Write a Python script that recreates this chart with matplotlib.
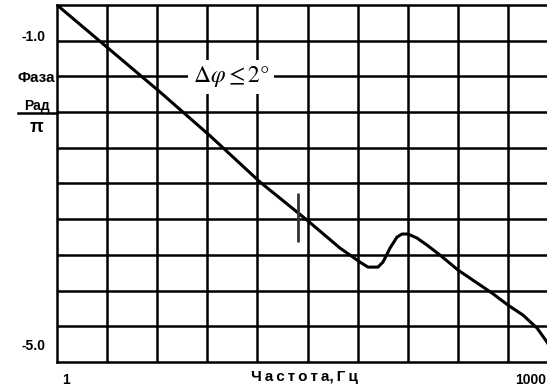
import numpy as np
import matplotlib.pyplot as plt
from matplotlib.lines import Line2D
from matplotlib.transforms import ScaledTranslation

plt.rcParams['mathtext.fontset'] = 'stix'

# phase response (frequency in Hz, phase in rad/pi)
freq = [1.0, 2.15, 4.70, 10.0, 21.1, 42.7, 70.2, 81.5, 94.7, 106.8, 124.1,
        133.8, 148.7, 165.2, 178.1, 194.8, 223.0, 259.2, 315.1, 412.9, 688.0,
        875.0, 1096.0, 1353.0, 1572.0, 1799.0]
phase = [-0.600, -1.157, -1.726, -2.296, -2.891, -3.383, -3.746, -3.836,
         -3.927, -3.992, -3.992, -3.927, -3.746, -3.603, -3.564, -3.564,
         -3.616, -3.707, -3.836, -4.030, -4.328, -4.484, -4.613, -4.781,
         -4.962, -5.170]

ytick_vals = [-1.0, -5.0]
ytick_labels = ['-1.0', '-5.0']
xtick_vals = [1, 1000]
xtick_labels = ['1', '1000']

marker_f = 37.3
marker_lo, marker_hi = -3.67, -3.03
note_f, note_y = 13.65, -1.53

x_min, x_max = 1.0, 1854.0
y_min, y_max = -5.22, -0.60

fig = plt.figure(figsize=(5.47, 3.87), dpi=100)
ax = fig.add_axes([57 / 547, 1 - 362 / 387, 501 / 547, 357 / 387])

ax.set_xscale('log')
ax.set_xlim(x_min, x_max)
ax.set_ylim(y_min, y_max)

# 10 x 10 grid of equal cells
ax.set_xticks(np.logspace(0, np.log10(x_max), 11)[1:-1], minor=True)
ax.set_yticks(np.linspace(y_min, y_max, 11)[1:-1], minor=True)
ax.grid(which='minor', color='black', lw=1.8)
ax.tick_params(which='both', length=0)
for s in ax.spines.values():
    s.set_linewidth(1.8)

ax.plot(freq, phase, color='black', lw=2.2, zorder=3)
ax.vlines(marker_f, marker_lo, marker_hi, color='#333333', lw=2.0, zorder=3)

ax.text(note_f, note_y, r'$\Delta\varphi \leq 2°$', fontsize=17,
        ha='center', va='center', zorder=5,
        bbox=dict(fc='white', ec='none', boxstyle='square,pad=0.2'))

ax.set_yticks(ytick_vals)
ax.set_yticklabels(ytick_labels, fontsize=10, fontweight='bold',
                   family='Liberation Sans')
ax.tick_params(axis='y', pad=8)

ax.set_xticks(xtick_vals)
ax.set_xticklabels(xtick_labels, fontsize=10, fontweight='bold',
                   family='Liberation Sans')
ax.tick_params(axis='x', pad=8)
shifts = [5, -2]
for lab, dx in zip(ax.get_xticklabels(), shifts):
    lab.set_ha('left')
    lab.set_transform(lab.get_transform()
                      + ScaledTranslation(dx / 100, 0, fig.dpi_scale_trans))
ax.xaxis.set_minor_formatter(plt.NullFormatter())
ax.yaxis.set_minor_formatter(plt.NullFormatter())

# axis titles
fig.text(36 / 547, 1 - 78 / 387, 'Фаза', fontsize=11, fontweight='bold',
         family='Liberation Sans', ha='center', va='center')
fig.text(37 / 547, 1 - 106 / 387, 'Рад', fontsize=10, fontweight='bold',
         family='Liberation Sans', ha='center', va='center')
fig.add_artist(Line2D([18 / 547, 57 / 547], [1 - 113 / 387, 1 - 113 / 387],
                      color='black', lw=1.8))
fig.text(36 / 547, 1 - 127 / 387, 'π', fontsize=13, fontweight='bold',
         family='Liberation Sans', ha='center', va='center')
fig.text(304 / 547, 1 - 377 / 387,
         '\u2009'.join(['Ч', 'а', 'с', 'т', 'о', 'т', 'а,', 'Г', 'ц']),
         fontsize=11, fontweight='bold', family='Liberation Sans',
         ha='center', va='center')

fig.savefig('out.png', dpi=100)
